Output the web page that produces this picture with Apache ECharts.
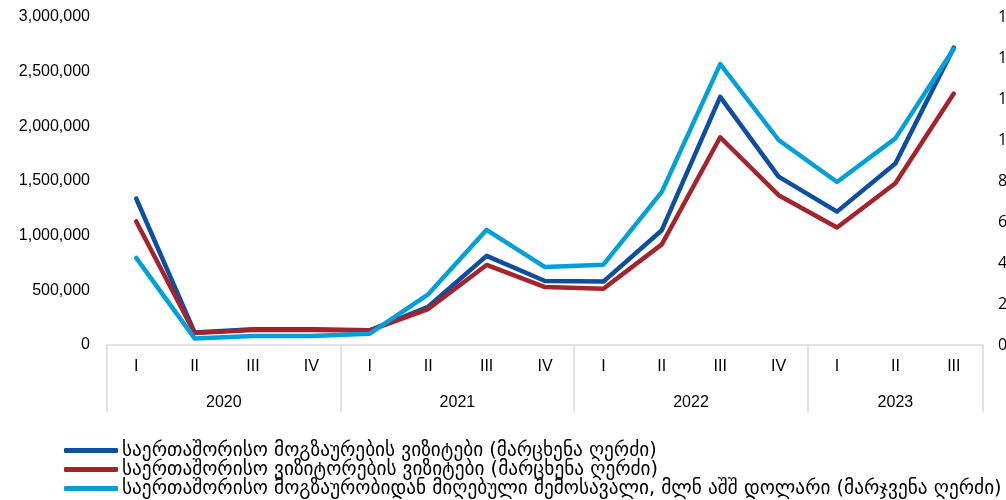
<!DOCTYPE html>
<html>
<head>
<meta charset="utf-8">
<script src="https://cdn.jsdelivr.net/npm/echarts@6/dist/echarts.min.js"></script>
<style>
  html, body { margin: 0; padding: 0; background: #fff; }
  #chart { width: 1006px; height: 500px; }
</style>
</head>
<body>
<div id="chart"></div>
<script>
// years and how many quarters each one has
var years = ['2020', '2021', '2022', '2023'];
var quarterCount = [4, 4, 4, 3];
var quarterNames = ['I', 'II', 'III', 'IV'];

// series (left axis: visits, right axis: mln USD)
var travellerVisits = [1340000, 115000, 145000, 145000, 135000, 350000, 815000, 585000, 580000, 1050000, 2270000, 1540000, 1220000, 1660000, 2720000];
var visitorVisits = [1130000, 110000, 137000, 137000, 133000, 329000, 732000, 530000, 515000, 920000, 1900000, 1370000, 1075000, 1480000, 2300000];
var travelRevenue = [425, 32, 44, 44, 55, 247, 562, 380, 392, 747, 1370, 1000, 795, 1008, 1445];

var seriesNames = [
    'საერთაშორისო მოგზაურების ვიზიტები (მარცხენა ღერძი)',
    'საერთაშორისო ვიზიტორების ვიზიტები (მარცხენა ღერძი)',
    'საერთაშორისო მოგზაურობიდან მიღებული შემოსავალი, მლნ აშშ დოლარი (მარჯვენა ღერძი)'
];
var colors = ['#0b4ea2', '#a5232b', '#02a0db'];

// category labels, year boundaries and year centres
var categories = [];
var yearEdges = [-0.5];
var yearCentres = [];
var pos = 0;
years.forEach(function (y, k) {
    for (var q = 0; q < quarterCount[k]; q++) {
        categories.push(quarterNames[q]);
    }
    yearCentres.push(pos + (quarterCount[k] - 1) / 2);
    pos += quarterCount[k];
    yearEdges.push(pos - 0.5);
});

var txt = '#000';
var chart = echarts.init(document.getElementById('chart'));

function lineSeries(i, data, yIdx) {
    return {
        name: seriesNames[i],
        type: 'line',
        xAxisIndex: 0,
        yAxisIndex: yIdx,
        data: data,
        symbol: 'none',
        color: colors[i],
        lineStyle: { width: 4.5, cap: 'round', join: 'round' },
        emphasis: { disabled: true }
    };
}

var option = {
    animation: false,
    grid: { left: 107, right: 23, top: 17, bottom: 155, outerBoundsMode: 'none', containLabel: false },
    legend: {
        orient: 'vertical',
        left: 64,
        top: 441,
        height: 80,
        padding: 0,
        itemGap: 0,
        itemWidth: 54,
        itemHeight: 5,
        icon: 'roundRect',
        textStyle: { color: txt, fontSize: 19.3, lineHeight: 18, fontFamily: 'DejaVu Sans', padding: [0, 0, 0, -1] },
        data: seriesNames
    },
    xAxis: [
        {
            type: 'category',
            data: categories,
            position: 'bottom',
            axisLine: { lineStyle: { color: '#d9d9d9', width: 1.5 } },
            axisTick: { show: false },
            axisLabel: { color: txt, fontSize: 16, fontFamily: 'Liberation Sans', margin: 14 }
        },
        {
            type: 'value',
            min: -0.5,
            max: categories.length - 0.5,
            position: 'bottom',
            axisLine: { show: false },
            splitLine: { show: false },
            axisTick: {
                show: true,
                customValues: yearEdges,
                length: 67,
                lineStyle: { color: '#d9d9d9', width: 1.5 }
            },
            axisLabel: {
                customValues: yearCentres,
                color: txt,
                fontSize: 16,
                fontFamily: 'Liberation Sans',
                margin: 50,
                formatter: function (v) {
                    return years[yearCentres.indexOf(v)];
                }
            }
        }
    ],
    yAxis: [
        {
            type: 'value',
            min: 0,
            max: 3000000,
            interval: 500000,
            axisLine: { show: false },
            axisTick: { show: false },
            splitLine: { show: false },
            axisLabel: {
                color: txt,
                fontSize: 16,
                fontFamily: 'Liberation Sans',
                margin: 17,
                formatter: function (v) { return v.toLocaleString('en-US'); }
            }
        },
        {
            type: 'value',
            min: 0,
            max: 1600,
            interval: 200,
            axisLine: { show: false },
            axisTick: { show: false },
            splitLine: { show: false },
            axisLabel: { color: txt, fontSize: 16, fontFamily: 'Open Sans', margin: 15 }
        }
    ],
    series: [
        lineSeries(0, travellerVisits, 0),
        lineSeries(1, visitorVisits, 0),
        lineSeries(2, travelRevenue, 1)
    ]
};
chart.setOption(option);
</script>
</body>
</html>
